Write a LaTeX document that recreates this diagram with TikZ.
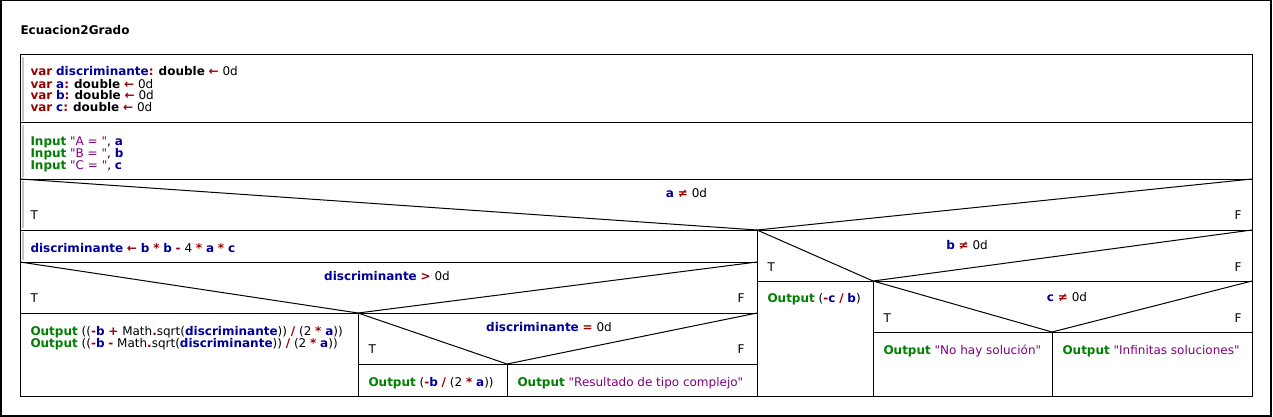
\documentclass[tikz,border=0pt]{standalone}
\usepackage{fontspec}
\setmainfont{DejaVu Sans}[Ligatures=TeXOff]
\usetikzlibrary{positioning}

\definecolor{kwred}{RGB}{153,0,0}
\definecolor{idblue}{RGB}{0,0,153}
\definecolor{iogreen}{RGB}{0,128,0}
\definecolor{strpurple}{RGB}{128,0,128}
\definecolor{bargray}{RGB}{196,196,196}

\newcommand{\kw}[1]{\textcolor{kwred}{\textbf{#1}}}
\newcommand{\ident}[1]{\textcolor{idblue}{\textbf{#1}}}
\newcommand{\iokw}[1]{\textcolor{iogreen}{\textbf{#1}}}
\newcommand{\strlit}[1]{\textcolor{strpurple}{#1}}

\tikzset{
  every node/.style={inner sep=0pt,font=\fontsize{12}{12}\selectfont},
  code/.style={anchor=base west,align=left},
  cond/.style={anchor=base},
  tlabel/.style={anchor=base west},
  flabel/.style={anchor=base east},
  selbar/.style={draw=bargray,line width=2pt}
}

\begin{document}
\begin{tikzpicture}[x=1pt,y=-1pt,line width=1pt]
    \useasboundingbox (0,0) rectangle (1273,417);
    \draw[line width=1.5pt,fill=white] (0.75,0.75) rectangle (1271,416);
    \node[anchor=base west] (title) at (20,35) {\textbf{Ecuacion2Grado}};

    % vertices of the conditions
    \coordinate (va) at (757,230);
    \coordinate (vdg) at (358,313);
    \coordinate (vde) at (507,364);
    \coordinate (vb) at (873,281);
    \coordinate (vc) at (1052,332);

    % frame and rows
    \draw (20,55) rectangle (1252,396);
    \draw (20,123) -- (1252,123);
    \draw (20,179) -- (1252,179);
    \draw (20,179) -- (va) -- (1252,179);
    \draw (20,230) -- (1252,230);
    \draw (va) -- (757,396);
    % true branch of a
    \draw (20,262) -- (757,262);
    \draw (20,262) -- (vdg) -- (757,262);
    \draw (20,313) -- (757,313);
    \draw (vdg) -- (358,396);
    \draw (vdg) -- (vde) -- (757,313);
    \draw (358,364) -- (757,364);
    \draw (vde) -- (507,396);
    % false branch of a
    \draw (va) -- (vb) -- (1252,230);
    \draw (757,281) -- (1252,281);
    \draw (vb) -- (873,396);
    \draw (vb) -- (vc) -- (1252,281);
    \draw (873,332) -- (1252,332);
    \draw (vc) -- (1052,396);

    % grey bars
    \draw[selbar] (22.5,57) -- (22.5,121);
    \draw[selbar] (22.5,125) -- (22.5,177);
    \draw[selbar] (22.5,181) -- (22.5,228);
    \draw[selbar] (22.5,232) -- (22.5,260);

    % base of a block = its last line
    \node[code] (decl) at (30,112) {\kw{var} \ident{discriminante}\kw{:} \textbf{double} \kw{←} 0d\\
      \kw{var} \ident{a}\kw{:} \textbf{double} \kw{←} 0d\\
      \kw{var} \ident{b}\kw{:} \textbf{double} \kw{←} 0d\\
      \kw{var} \ident{c}\kw{:} \textbf{double} \kw{←} 0d};
    \node[code] (input) at (30,169) {\iokw{Input} \strlit{"A = "}, \ident{a}\\
      \iokw{Input} \strlit{"B = "}, \ident{b}\\
      \iokw{Input} \strlit{"C = "}, \ident{c}};

    \node[cond] (conda) at (686.5,197) {\ident{a} \kw{≠} 0d};
    \node[tlabel] (ta) at (30,219) {T};
    \node[flabel] (fa) at (1242,219) {F};

    \node[code] (assign) at (30,252) {\ident{discriminante} \kw{←} \ident{b} \kw{*} \ident{b} \kw{-} 4 \kw{*} \ident{a} \kw{*} \ident{c}};

    \node[cond] (conddg) at (387,280) {\ident{discriminante} \kw{>} 0d};
    \node[tlabel] (tdg) at (30,302) {T};
    \node[flabel] (fdg) at (745,302) {F};

    \node[code] (outroots) at (30,347) {\iokw{Output} ((\kw{-}\ident{b} \kw{+} Math\kw{.}sqrt(\ident{discriminante})) \kw{/} (2 \kw{*} \ident{a}))\\
      \iokw{Output} ((\kw{-}\ident{b} \kw{-} Math\kw{.}sqrt(\ident{discriminante})) \kw{/} (2 \kw{*} \ident{a}))};

    \node[cond] (condde) at (549,331) {\ident{discriminante} \kw{=} 0d};
    \node[tlabel] (tde) at (368,353) {T};
    \node[flabel] (fde) at (745,353) {F};
    \node[code] (outdouble) at (368,386) {\iokw{Output} (\kw{-}\ident{b} \kw{/} (2 \kw{*} \ident{a}))};
    \node[code] (outcomplex) at (517,386) {\iokw{Output} \strlit{"Resultado de tipo complejo"}};

    \node[cond] (condb) at (967,249) {\ident{b} \kw{≠} 0d};
    \node[tlabel] (tb) at (767,271) {T};
    \node[flabel] (fb) at (1242,271) {F};
    \node[code] (outlinear) at (767,302) {\iokw{Output} (\kw{-}\ident{c} \kw{/} \ident{b})};

    \node[cond] (condc) at (1067,301) {\ident{c} \kw{≠} 0d};
    \node[tlabel] (tc) at (883,322) {T};
    \node[flabel] (fc) at (1242,322) {F};
    \node[code] (outnone) at (883,354) {\iokw{Output} \strlit{"No hay solución"}};
    \node[code] (outall) at (1062,354) {\iokw{Output} \strlit{"Infinitas soluciones"}};
  \end{tikzpicture}
\end{document}
